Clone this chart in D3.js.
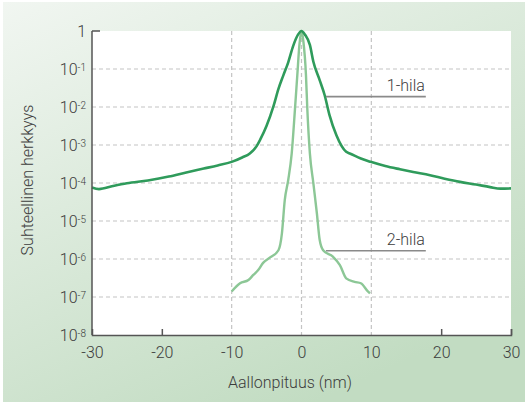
<!DOCTYPE html>
<html>
<head>
<meta charset="utf-8">
<script src="https://cdn.jsdelivr.net/npm/d3@7"></script>
<style>
    body { margin: 0; background: #fff; }
    svg text { font-family: Roboto, "Liberation Sans", sans-serif; font-weight: 300; fill: #3c3c3c; }
</style>
</head>
<body>
<svg id="chart"></svg>
<script>

// 1-hila: wavelength (nm) and relative sensitivity
const hila1X = [-30, -29, -27, -25, -22, -19, -16.5, -14, -12, -10, -8.5, -7.4, -6.4, -5.9, -5.0, -4.0, -3.3, -2.6, -1.9, -1.2, -0.5, 0,
    0.5, 1.2, 1.7, 2.6, 3.3, 4.0, 5.0, 6.4, 7.0, 8.5, 9.9, 12, 14.1, 16, 18.4, 20.5, 22.7, 25, 27, 28.5, 30];
const hila1Y = [7.6e-5, 6.9e-5, 8.3e-5, 9.8e-5, 1.17e-4, 1.48e-4, 1.9e-4, 2.4e-4, 2.9e-4, 3.6e-4, 4.7e-4, 6.0e-4, 9.5e-4, 1.4e-3, 3.2e-3, 1.07e-2, 3.0e-2, 6.8e-2, 0.15, 0.4, 0.8, 1,
    0.8, 0.43, 0.155, 0.051, 0.021, 6.2e-3, 1.8e-3, 6.6e-4, 5.9e-4, 4.4e-4, 3.6e-4, 2.8e-4, 2.3e-4, 1.95e-4, 1.6e-4, 1.3e-4, 1.07e-4, 9.1e-5, 7.8e-5, 7.1e-5, 7.2e-5];

// 2-hila
const hila2X = [-10, -8.8, -7.6, -6.9, -6.2, -5.5, -4.5, -3.3, -2.8, -2.4, -1.9, -1.4, -0.93, -0.6, -0.3, 0,
    0.26, 0.64, 0.83, 1.2, 1.7, 2.2, 2.6, 3.1, 4.5, 5.5, 6.4, 7.6, 8.5, 9.5, 9.8];
const hila2Y = [1.4e-7, 2.3e-7, 2.8e-7, 3.8e-7, 5.1e-7, 7.9e-7, 1.1e-6, 1.7e-6, 4.8e-6, 3.5e-5, 1.2e-4, 6.0e-4, 9.1e-3, 0.069, 0.43, 1,
    0.55, 0.069, 9.1e-3, 6.0e-4, 9.8e-5, 1.6e-5, 3.2e-6, 1.7e-6, 1.15e-6, 6.9e-7, 3.1e-7, 2.5e-7, 2.3e-7, 1.4e-7, 1.25e-7];

// tick values
const xTicks = [-30, -20, -10, 0, 10, 20, 30];
const xTickMarks = [-20, 20, 30];
const xGrid = [-10, 0, 10];
const yExponents = [0, -1, -2, -3, -4, -5, -6, -7, -8];

// labels with leader lines: [name, level, x start, x end]
const labelNames = ["1-hila", "2-hila"];
const labelLevels = [0.0187, 1.65e-6];
const labelFrom = [3.5, 3.5];
const labelTo = [17.8, 17.8];

class SpectrumChart {

    constructor(parentElement) {
        this.parentElement = parentElement;
        this.initVis();
    }

    initVis() {
        let vis = this;

        vis.margin = { top: 31, right: 14, bottom: 67, left: 92 };
        vis.totalWidth = 525;
        vis.totalHeight = 402;
        vis.width = vis.totalWidth - vis.margin.left - vis.margin.right;
        vis.height = vis.totalHeight - vis.margin.top - vis.margin.bottom;
        vis.fontSize = "16px";

        vis.root = d3.select("#" + vis.parentElement)
            .attr("width", vis.totalWidth)
            .attr("height", vis.totalHeight);

        // background gradient panel
        let grad = vis.root.append("defs").append("linearGradient")
            .attr("id", "bg")
            .attr("x1", 0).attr("y1", 0)
            .attr("x2", 0.6).attr("y2", 1);
        grad.append("stop").attr("offset", "0%").attr("stop-color", "#f1f6f1");
        grad.append("stop").attr("offset", "100%").attr("stop-color", "#c2dcc2");

        vis.root.append("rect")
            .attr("x", 3).attr("y", 2)
            .attr("width", vis.totalWidth - 3)
            .attr("height", vis.totalHeight - 2)
            .attr("fill", "url(#bg)");

        vis.svg = vis.root.append("g")
            .attr("transform", `translate(${vis.margin.left}, ${vis.margin.top})`);

        vis.svg.append("rect")
            .attr("width", vis.width)
            .attr("height", vis.height)
            .attr("fill", "#fff");

        vis.xScale = d3.scaleLinear().domain([-30, 30]).range([0, vis.width]);
        vis.yScale = d3.scaleLog().domain([1e-8, 1]).range([vis.height, 0]);

        vis.updateVis();
    }

    updateVis() {
        let vis = this;

        // dashed grid
        vis.svg.selectAll(".hgrid")
            .data(yExponents.filter(e => e < 0 && e > -8))
            .join("line")
            .attr("class", "hgrid")
            .attr("x1", 0).attr("x2", vis.width)
            .attr("y1", e => vis.yScale(Math.pow(10, e)))
            .attr("y2", e => vis.yScale(Math.pow(10, e)))
            .attr("stroke", "#c4c4c4")
            .attr("stroke-width", 1.2)
            .attr("stroke-dasharray", "4,3");

        vis.svg.selectAll(".vgrid")
            .data(xGrid)
            .join("line")
            .attr("class", "vgrid")
            .attr("x1", d => vis.xScale(d)).attr("x2", d => vis.xScale(d))
            .attr("y1", 0).attr("y2", vis.height)
            .attr("stroke", "#c4c4c4")
            .attr("stroke-width", 1.2)
            .attr("stroke-dasharray", "4,3");

        // curves
        let line = d3.line()
            .x(d => vis.xScale(d[0]))
            .y(d => vis.yScale(d[1]))
            .curve(d3.curveMonotoneX);

        vis.svg.append("path")
            .datum(d3.zip(hila2X, hila2Y))
            .attr("fill", "none")
            .attr("stroke", "#8cc796")
            .attr("stroke-width", 2.4)
            .attr("d", line);

        vis.svg.append("path")
            .datum(d3.zip(hila1X, hila1Y))
            .attr("fill", "none")
            .attr("stroke", "#2f9b5b")
            .attr("stroke-width", 2.6)
            .attr("d", line);

        // leader lines and labels
        labelNames.forEach((name, i) => {
            let y = vis.yScale(labelLevels[i]);
            vis.svg.append("line")
                .attr("x1", vis.xScale(labelFrom[i]))
                .attr("x2", vis.xScale(labelTo[i]))
                .attr("y1", y).attr("y2", y)
                .attr("stroke", "#8a8a8a")
                .attr("stroke-width", 1.6);
            vis.svg.append("text")
                .attr("x", vis.xScale(labelTo[i]) - 1)
                .attr("y", y - 5.5)
                .attr("text-anchor", "end")
                .style("font-size", vis.fontSize)
                .text(name);
        });

        // x axis
        vis.xAxis = d3.axisBottom(vis.xScale)
            .tickValues(xTicks)
            .tickFormat(d => String(d))
            .tickSize(-6)
            .tickPadding(12);

        let xg = vis.svg.append("g")
            .attr("transform", `translate(0, ${vis.height})`)
            .call(vis.xAxis);
        xg.select(".domain").attr("stroke", "#555").attr("stroke-width", 1.5);
        xg.selectAll(".tick line")
            .attr("stroke", "#555").attr("stroke-width", 1.5)
            .style("display", d => xTickMarks.includes(d) ? null : "none");
        xg.selectAll(".tick text")
            .attr("fill", "#3c3c3c")
            .style("font-size", vis.fontSize)
            .style("font-family", null);

        // y axis
        vis.svg.append("line")
            .attr("x1", 0).attr("x2", 0)
            .attr("y1", 0).attr("y2", vis.height)
            .attr("stroke", "#555").attr("stroke-width", 1.5);
        vis.svg.append("line")
            .attr("x1", 0).attr("x2", 8)
            .attr("y1", 0).attr("y2", 0)
            .attr("stroke", "#555").attr("stroke-width", 1.5);

        let ylab = vis.svg.selectAll(".ylab")
            .data(yExponents)
            .join("text")
            .attr("class", "ylab")
            .attr("x", -6)
            .attr("y", e => vis.yScale(Math.pow(10, e)))
            .attr("dy", "0.36em")
            .attr("text-anchor", "end")
            .style("font-size", vis.fontSize);
        ylab.filter(e => e === 0).text("1");
        ylab.filter(e => e !== 0).each(function (e) {
            let t = d3.select(this);
            t.append("tspan").text("10");
            t.append("tspan")
                .attr("dy", "-0.4em")
                .style("font-size", "10px")
                .text(String(e));
        });

        // axis titles
        vis.root.append("text")
            .attr("x", 290)
            .attr("y", 388)
            .attr("text-anchor", "middle")
            .style("font-size", vis.fontSize)
            .text("Aallonpituus (nm)");

        vis.root.append("text")
            .attr("transform", "translate(33, 180) rotate(-90)")
            .attr("text-anchor", "middle")
            .style("font-size", vis.fontSize)
            .text("Suhteellinen herkkyys");
    }
}

new SpectrumChart("chart");
</script>
</body>
</html>
